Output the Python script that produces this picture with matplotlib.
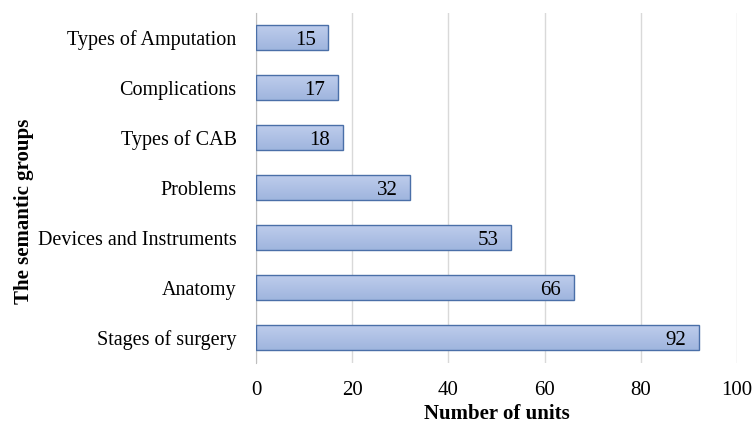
import numpy as np
import matplotlib.pyplot as plt
from matplotlib.colors import LinearSegmentedColormap

groups = ['Stages of surgery', 'Anatomy', 'Devices and Instruments', 'Problems',
          'Types of CAB', 'Complications', 'Types of Amputation']
units = [92, 66, 53, 32, 18, 17, 15]

plt.rcParams['font.family'] = ['Liberation Serif', 'DejaVu Serif']

fig = plt.figure(figsize=(7.53, 4.26), dpi=100)
ax = fig.add_axes([0.340, 0.148, 0.639, 0.822])

y = np.arange(len(groups))
bars = ax.barh(y, units, height=0.5, color='none', edgecolor='#4a6fa8', linewidth=1.0, zorder=3)

# gradient fill for each bar (lighter on top)
cmap = LinearSegmentedColormap.from_list('bar', ['#9fb5de', '#bfcdec'])
grad = np.linspace(0, 1, 64).reshape(-1, 1)
for b in bars:
    x0, y0 = b.get_x(), b.get_y()
    w, h = b.get_width(), b.get_height()
    im = ax.imshow(grad, cmap=cmap, aspect='auto', extent=[x0, x0 + w, y0, y0 + h],
                   origin='lower', zorder=2)
    im.set_clip_path(b)

for yi, v in zip(y, units):
    ax.text(v - 2.6, yi, str(v), ha='right', va='center_baseline', fontsize=15, zorder=4)

ax.set_xlim(0, 100)
ax.set_ylim(-0.5, len(groups) - 0.5)
ax.set_xticks(range(0, 101, 20))
ax.set_yticks(y)
ax.set_yticklabels(groups)
ax.tick_params(axis='x', length=0, labelsize=15, pad=13)
ax.tick_params(axis='y', length=0, labelsize=14.5, pad=14)
ax.xaxis.grid(True, color='#d9d9d9', linewidth=1.0, zorder=0)
ax.set_axisbelow(True)
for s in ['top', 'right', 'bottom']:
    ax.spines[s].set_visible(False)
ax.spines['left'].set_color('#bfbfbf')

ax.set_xlabel('Number of units', fontsize=15, fontweight='bold')
ax.xaxis.set_label_coords(0.5, -0.118)
ax.set_ylabel('The semantic groups', fontsize=15, fontweight='bold')
ax.yaxis.set_label_coords(-0.462, 0.434)

fig.savefig('out.png', dpi=100)
